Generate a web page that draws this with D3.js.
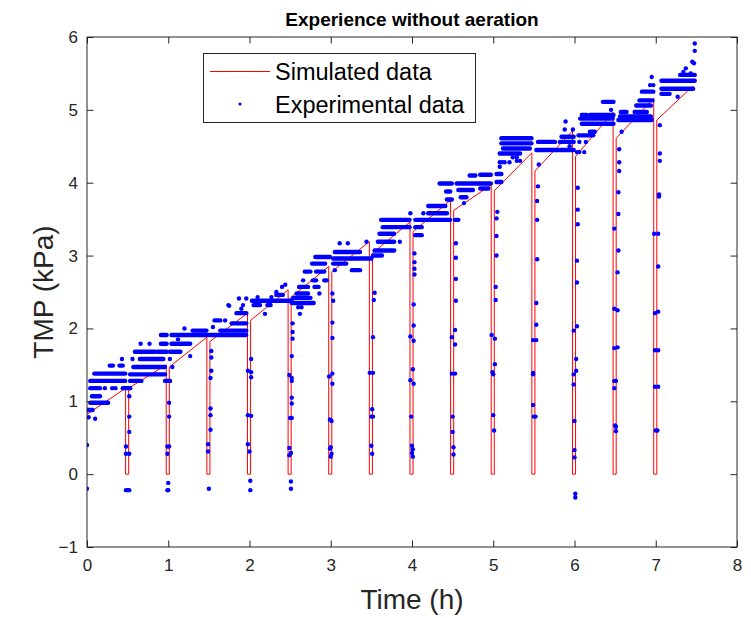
<!DOCTYPE html>
<html><head><meta charset="utf-8">
<script src="https://cdn.jsdelivr.net/npm/d3@7"></script>
<style>
html,body{margin:0;padding:0;background:#fff;}
svg{display:block;font-family:"Liberation Sans",Arial,Helvetica,sans-serif;}
</style></head>
<body><svg id="chart" width="751" height="618"></svg>
<script>
// ---- Data ----
const titleText = "Experience without aeration";
const xLabel = "Time (h)";
const yLabel = "TMP (kPa)";
const xTicks = [0,1,2,3,4,5,6,7,8];
const yTicks = [-1,0,1,2,3,4,5,6];
const legendLabels = ["Simulated data","Experimental data"];

// Simulated data: one filtration cycle per entry
const simTimeStart = [0,0.513,1.013,1.513,2.013,2.513,3.013,3.513,4.013,4.513,5.013,5.513,6.013,6.513,7.013];
const simTimeEnd   = [0.475,0.975,1.475,1.975,2.475,2.975,3.475,3.975,4.475,4.975,5.475,5.975,6.475,6.975,7.46];
const simStart     = [0.82,1.18,1.47,1.82,2.11,2.43,2.78,3.03,3.33,3.62,3.89,4.16,4.36,4.61,4.86];
const simEnd       = [1.18,1.50,1.88,2.21,2.53,2.85,3.19,3.46,3.76,3.97,4.41,4.71,4.97,5.16,5.33];
const simFloor = 0;

// Experimental data: dense runs of samples at one TMP level [t0, t1, TMP]
const expRuns = [
 [0.04,0.47,1.28],[0.09,0.47,1.38],[0.04,0.26,0.98],[0.04,0.16,1.18],[0.44,0.53,1.18],[0.06,0.16,1.07],[0.01,0.07,0.88],[0.28,0.32,1.49],[0.40,0.44,1.49],
 [0.53,0.96,1.37],[0.53,0.67,1.28],[0.96,1.02,1.28],[0.57,0.96,1.47],[0.65,0.94,1.58],[0.59,0.84,1.68],[0.87,0.98,1.68],[0.91,0.98,1.79],[0.91,0.98,1.91],
 [1.04,1.49,1.91],[1.04,1.27,1.79],[1.02,1.15,1.68],[1.30,1.47,1.97],
 [1.51,1.96,1.91],[1.64,1.96,1.97],[1.78,1.96,2.07],[1.57,1.64,2.11],[1.84,1.96,2.21],
 [2.03,2.49,2.38],[2.05,2.13,2.32],[2.22,2.26,2.32],[2.33,2.41,2.46],
 [2.52,2.79,2.35],[2.54,2.75,2.42],[2.58,2.72,2.48],[2.61,2.72,2.57],[2.80,2.85,2.57],[2.78,2.82,2.66],[2.92,2.95,2.66],[2.68,2.75,2.78],[2.82,2.92,2.78],[2.77,2.93,2.89],[2.81,2.99,2.98],
 [3.03,3.50,2.96],[3.03,3.19,2.89],[3.05,3.36,3.05],[3.26,3.36,2.80],
 [3.52,3.63,3.00],[3.54,3.78,3.07],[3.58,3.78,3.19],[3.60,3.78,3.30],[3.64,3.97,3.39],[3.62,3.97,3.49],
 [4.04,4.47,3.49],[4.04,4.12,3.39],[4.04,4.12,3.28],[4.20,4.43,3.58],[4.20,4.41,3.68],[4.43,4.49,3.77],[4.42,4.47,3.88],[4.34,4.49,3.99],
 [4.55,4.97,3.99],[4.71,4.78,4.10],[4.84,4.97,4.11],[4.57,4.75,3.90],[4.84,4.94,3.92],[4.60,4.67,3.80],[4.53,4.57,3.49],
 [5.10,5.47,4.61],[5.10,5.47,4.54],[5.12,5.45,4.47],[5.08,5.33,4.40],[5.04,5.10,4.12],[5.04,5.10,4.01],
 [5.55,5.76,4.56],[5.82,5.99,4.56],[5.53,5.99,4.45],[5.84,5.99,4.63],
 [6.09,6.48,4.81],[6.09,6.15,4.93],[6.19,6.48,4.93],[6.05,6.23,4.65],[6.07,6.47,4.88],[6.35,6.48,5.11],[6.19,6.25,4.70],
 [6.54,6.95,4.86],[6.56,6.94,4.91],[6.57,6.64,4.97],[6.74,6.89,4.97],[6.76,6.94,5.06],[6.80,6.96,5.13],[6.83,6.97,5.25],
 [7.07,7.48,5.40],[7.07,7.46,5.29],[7.07,7.17,5.22],[7.30,7.48,5.48]
];

// Experimental data: isolated samples [t, TMP]
const expPoints = [
 [0,0.4],[0,-0.2],[0,0.88],[0.02,0.78],[0.1,0.76],[0.22,1.18],[0.31,1.18],[0.35,1.18],[0.43,1.58],
 [0.66,1.79],[0.77,1.79],[0.56,1.58],[0.53,1.18],
 [1.02,1.58],[1.27,1.62],[1.05,1.47],[1.2,2.0],[1.12,1.85],
 [1.74,2.32],[1.92,2.32],[1.87,2.41],[1.96,2.41],[1.75,2.31],[1.90,2.27],[1.55,2.02],[1.70,2.11],
 [2.19,2.2],[2.33,2.5],[2.40,2.57],[2.44,2.6],[2.10,2.43],[2.27,2.43],
 [2.62,2.2],[2.60,2.29],[2.64,2.29],[2.66,2.66],[2.86,2.48],
 [3.05,2.8],[3.11,3.17],[3.21,3.17],[3.44,3.19],
 [3.85,3.19],[3.98,3.58],[4.14,3.58],[4.64,3.72],
 [5.08,4.28],[5.11,4.28],[5.14,4.28],[5.2,4.28],[5.08,4.22],[5.24,4.35],[5.29,4.35],[5.29,4.3],[5.33,4.3],
 [5.88,4.73],[5.98,4.73],[5.89,4.84],[5.94,4.5],
 [6.06,4.56],[6.14,4.56],[6.03,4.42],[6.06,4.42],[6.12,4.42],[6.45,5.0],
 [6.93,5.34],[6.97,5.34],[6.95,5.45],[6.58,4.7],
 [7.37,5.57],[7.45,5.66],[7.47,5.64],[7.48,5.81],[7.48,5.91],[7.27,5.18],[7.05,4.79],[7.34,5.52],[7.43,5.5],
 // transients during cleaning
 [0.52,1.07],[0.52,0.79],[0.52,0.58],[0.48,0.38],[0.48,0.28],[0.52,0.28],[0.48,-0.22],[0.52,-0.22],[0.5,-0.22],
 [1.02,1.28],[1.01,0.98],[1.01,0.79],[0.99,0.38],[1.01,0.38],[0.99,0.28],[1.0,-0.12],[1.0,-0.22],[0.99,-0.22],
 [1.53,1.69],[1.53,1.6],[1.53,1.42],[1.52,1.32],[1.52,0.9],[1.52,0.81],[1.52,0.61],[1.49,0.41],[1.49,0.31],[1.5,-0.2],
 [2.02,1.58],[2.02,1.4],[2.02,1.33],[1.98,1.42],[1.98,0.81],[2.02,0.8],[1.98,0.41],[2.0,0.31],[2.01,-0.09],[2.01,-0.22],
 [2.52,2.39],[2.53,2.07],[2.53,1.95],[2.53,1.86],[2.52,1.62],[2.49,1.36],[2.52,1.32],[2.52,1.28],[2.52,1.05],[2.52,0.97],[2.5,0.77],[2.52,0.77],[2.49,0.36],[2.51,0.29],[2.49,0.26],[2.51,-0.1],[2.51,-0.2],
 [3.02,2.48],[3.03,2.38],[3.02,2.08],[3.02,1.87],[3.02,1.38],[2.98,1.34],[3.02,1.24],[2.99,0.75],[3.01,0.73],[3.0,0.37],[2.99,0.35],[3.01,0.28],[3.0,0.24],
 [3.54,2.49],[3.53,2.39],[3.52,1.88],[3.48,1.39],[3.52,1.39],[3.51,0.89],[3.5,0.79],[3.52,0.79],[3.5,0.39],[3.51,0.28],
 [4.03,3.03],[4.03,2.91],[4.03,2.82],[4.03,2.74],[4.02,2.33],[4.02,2.04],[3.98,1.89],[4.02,1.83],[4.01,1.44],[3.98,1.29],[4.02,1.24],[3.99,0.79],[4.0,0.39],[4.01,0.34],[4.0,0.29],[4.01,0.24],
 [4.54,3.17],[4.54,2.97],[4.54,2.68],[4.54,2.38],[4.53,1.98],[4.49,1.88],[4.53,1.78],[4.49,1.38],[4.53,1.38],[4.5,0.79],[4.5,0.58],[4.51,0.37],[4.51,0.27],
 [5.05,3.6],[5.04,3.51],[5.04,3.27],[5.04,3.0],[5.03,2.57],[5.03,2.39],[4.98,1.91],[5.02,1.86],[5.02,1.51],[4.99,1.4],[5.0,1.37],[5.0,0.81],[5.01,0.6],
 [5.56,4.25],[5.55,3.95],[5.54,3.75],[5.54,3.49],[5.54,2.95],[5.53,2.35],[5.53,2.05],[5.49,1.84],[5.53,1.84],[5.49,1.39],[5.49,1.37],[5.49,0.95],[5.5,0.79],[5.52,0.79],
 [6.04,3.93],[6.04,3.63],[6.04,3.43],[6.03,2.93],[6.03,2.63],[6.03,2.03],[5.99,1.97],[6.02,1.58],[6.02,1.42],[5.99,1.37],[5.99,1.23],[6.0,0.73],[6.0,0.33],[6.0,0.23],[6.01,-0.27],[6.01,-0.32],
 [6.55,4.46],[6.55,4.28],[6.55,4.16],[6.54,3.87],[6.49,3.37],[6.54,3.57],[6.54,3.07],[6.53,2.77],[6.49,2.27],[6.53,2.25],[6.49,1.73],[6.53,1.74],[6.49,1.28],[6.51,1.28],[6.49,1.18],[6.5,0.67],[6.51,0.65],[6.51,0.59],
 [7.05,4.4],[7.05,4.3],[7.04,3.84],[7.04,3.81],[6.98,3.3],[7.03,3.3],[7.03,2.85],[6.99,2.21],[7.03,2.23],[6.99,1.7],[7.03,1.7],[6.99,1.2],[7.03,1.2],[7.0,0.6],[7.02,0.6]
];

// ---- Drawing ----
const W = 751, H = 618;
const M = {left:87, right:737, top:37, bottom:547};
const ink = "#262626";
const svg = d3.select("#chart");
svg.append("rect").attr("width",W).attr("height",H).attr("fill","#fff");

const x = d3.scaleLinear().domain([0,8]).range([M.left, M.right]);
const y = d3.scaleLinear().domain([-1,6]).range([M.bottom, M.top]);

const plot = svg.append("g");
const clipId = "clipPlot";
svg.append("defs").append("clipPath").attr("id",clipId)
  .append("rect").attr("x",M.left).attr("y",M.top).attr("width",M.right-M.left).attr("height",M.bottom-M.top);

// simulated line path
const simPts = [];
simTimeStart.forEach((ts,i)=>{
  simPts.push([ts, simStart[i]]);
  simPts.push([simTimeEnd[i], simEnd[i]]);
  if (i < simTimeStart.length-1) {
    simPts.push([simTimeEnd[i], simFloor]);
    simPts.push([simTimeStart[i+1], simFloor]);
  }
});
const line = d3.line().x(d=>x(d[0])).y(d=>y(d[1]));
const g = plot.append("g").attr("clip-path",`url(#${clipId})`);
g.append("path").datum(simPts).attr("d",line)
  .attr("fill","none").attr("stroke","#ff0000").attr("stroke-width",1);

// experimental dense runs
const dotR = 2.2;
const blue = "#0000ff";
g.append("g").selectAll("line").data(expRuns).join("line")
  .attr("x1",d=>x(d[0])).attr("x2",d=>x(d[1]))
  .attr("y1",d=>y(d[2])).attr("y2",d=>y(d[2]))
  .attr("stroke",blue).attr("stroke-width",dotR*2).attr("stroke-linecap","round");
g.append("g").selectAll("circle").data(expPoints).join("circle")
  .attr("cx",d=>x(d[0])).attr("cy",d=>y(d[1])).attr("r",dotR).attr("fill",blue);

// axes
const tickLen = 6.5;
const axG = svg.append("g");
axG.append("rect").attr("x",M.left).attr("y",M.top).attr("width",M.right-M.left).attr("height",M.bottom-M.top)
  .attr("fill","none").attr("stroke",ink).attr("stroke-width",1);
const xAxis = d3.axisBottom(x).tickValues(xTicks).tickSize(-tickLen).tickPadding(12).tickFormat(d3.format("d"));
const yAxis = d3.axisLeft(y).tickValues(yTicks).tickSize(-tickLen).tickPadding(9).tickFormat(d3.format("d"));
const gx = svg.append("g").attr("transform",`translate(0,${M.bottom})`).call(xAxis);
const gy = svg.append("g").attr("transform",`translate(${M.left},0)`).call(yAxis);
const gxt = svg.append("g").attr("transform",`translate(0,${M.top})`).call(d3.axisTop(x).tickValues(xTicks).tickSize(-tickLen).tickFormat(""));
const gyr = svg.append("g").attr("transform",`translate(${M.right},0)`).call(d3.axisRight(y).tickValues(yTicks).tickSize(-tickLen).tickFormat(""));
[gx,gy,gxt,gyr].forEach(a=>{
  a.select(".domain").remove();
  a.selectAll(".tick line").attr("stroke",ink);
  a.selectAll(".tick text").attr("fill",ink).attr("font-size",17)
   .attr("font-family","'Liberation Sans',Arial,sans-serif");
});

// title and labels
svg.append("text").attr("x",(M.left+M.right)/2).attr("y",26).attr("text-anchor","middle")
  .attr("font-size",19).attr("font-weight","bold").attr("fill","#000").text(titleText);
svg.append("text").attr("x",(M.left+M.right)/2).attr("y",609).attr("text-anchor","middle")
  .attr("font-size",28).attr("fill",ink).text(xLabel);
svg.append("text").attr("transform",`translate(53,${(M.top+M.bottom)/2}) rotate(-90)`).attr("text-anchor","middle")
  .attr("font-size",28).attr("fill",ink).text(yLabel);

// legend
const lg = svg.append("g");
lg.append("rect").attr("x",203.5).attr("y",53.5).attr("width",272).attr("height",69)
  .attr("fill","#fff").attr("stroke",ink).attr("stroke-width",1);
lg.append("line").attr("x1",210).attr("x2",270).attr("y1",71.5).attr("y2",71.5)
  .attr("stroke","#ff0000").attr("stroke-width",1);
lg.append("circle").attr("cx",240).attr("cy",104).attr("r",1.6).attr("fill",blue);
lg.append("text").attr("x",275).attr("y",80).attr("font-size",23.5).attr("fill","#000").text(legendLabels[0]);
lg.append("text").attr("x",275).attr("y",113).attr("font-size",23.5).attr("fill","#000").text(legendLabels[1]);
</script></body></html>
